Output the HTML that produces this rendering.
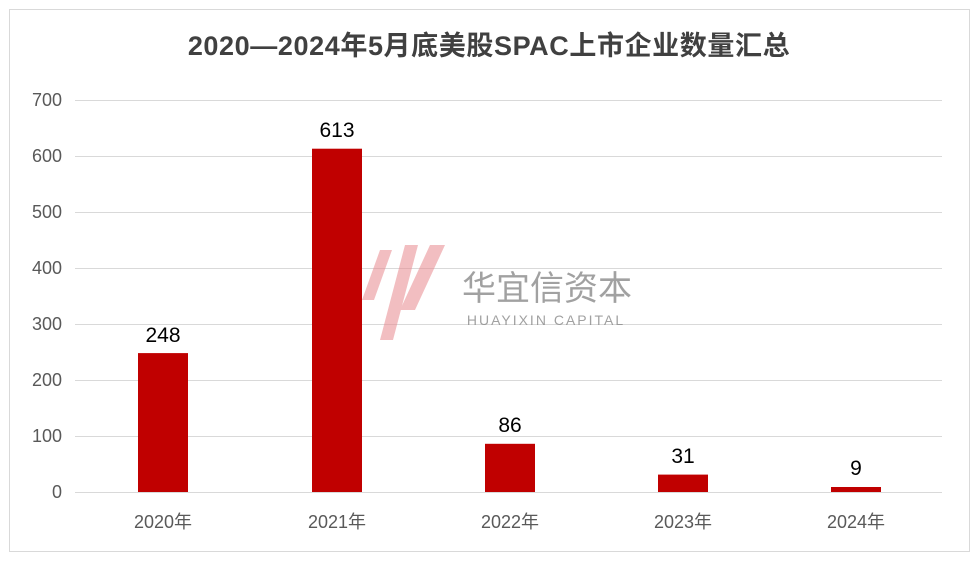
<!DOCTYPE html>
<html><head><meta charset="utf-8"><style>
body{margin:0;background:#fff;}
svg{display:block;font-family:"Liberation Sans","Noto Sans CJK SC",sans-serif;}
</style></head><body>
<svg width="979" height="562" viewBox="0 0 979 562">
<rect x="0" y="0" width="979" height="562" fill="#fff"/>
<rect x="9.5" y="9.5" width="960" height="542" fill="none" stroke="#d9d9d9"/>
<text x="489" y="55" text-anchor="middle" font-size="27" letter-spacing="0.6" font-weight="bold" fill="#404040">2020—2024年5月底美股SPAC上市企业数量汇总</text>
<g stroke="#d9d9d9" stroke-width="1">
<line x1="75" x2="942" y1="100.5" y2="100.5"/>
<line x1="75" x2="942" y1="156.5" y2="156.5"/>
<line x1="75" x2="942" y1="212.5" y2="212.5"/>
<line x1="75" x2="942" y1="268.5" y2="268.5"/>
<line x1="75" x2="942" y1="324.5" y2="324.5"/>
<line x1="75" x2="942" y1="380.5" y2="380.5"/>
<line x1="75" x2="942" y1="436.5" y2="436.5"/>
<line x1="75" x2="942" y1="492.5" y2="492.5"/>
</g>
<g font-size="18" fill="#595959" text-anchor="end">
<text x="62" y="106">700</text><text x="62" y="162">600</text><text x="62" y="218">500</text>
<text x="62" y="274">400</text><text x="62" y="330">300</text><text x="62" y="386">200</text>
<text x="62" y="442">100</text><text x="62" y="498">0</text>
</g>
<g opacity="0.55">
<polygon points="362,300 380,250 392,250 374,300" fill="#e88a8f"/>
<polygon points="380,340 405,245 418,245 393,340" fill="#e88a8f"/>
<polygon points="400,310 430,245 445,245 415,310" fill="#e88a8f"/>
</g>
<text x="547" y="300" text-anchor="middle" font-size="34" fill="#8a8a8a" opacity="0.8">华宜信资本</text>
<text x="546" y="325" text-anchor="middle" font-size="14" letter-spacing="2" fill="#8a8a8a" opacity="0.8">HUAYIXIN CAPITAL</text>
<g fill="#c00000">
<rect x="138" y="353.1" width="50" height="138.9"/>
<rect x="312" y="148.7" width="50" height="343.3"/>
<rect x="485" y="443.8" width="50" height="48.2"/>
<rect x="658" y="474.6" width="50" height="17.4"/>
<rect x="831" y="487" width="50" height="5"/>
</g>
<line x1="75" x2="942" y1="492.5" y2="492.5" stroke="#d9d9d9"/>
<g font-size="21" fill="#000" text-anchor="middle">
<text x="163" y="342">248</text><text x="337" y="137">613</text><text x="510" y="432">86</text>
<text x="683" y="463">31</text><text x="856" y="475">9</text>
</g>
<g font-size="18" fill="#595959" text-anchor="middle">
<text x="163" y="528">2020年</text><text x="337" y="528">2021年</text><text x="510" y="528">2022年</text>
<text x="683" y="528">2023年</text><text x="856" y="528">2024年</text>
</g>
</svg>
</body></html>
